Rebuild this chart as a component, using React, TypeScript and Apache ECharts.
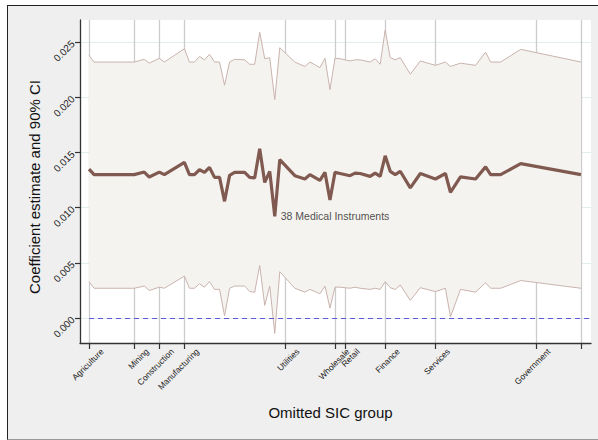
import React, { useEffect, useRef } from "react";
import * as echarts from "echarts";

const sic = [1, 2, 10, 12, 13, 15, 16, 20, 21, 22, 23, 24, 25, 26, 27, 28, 29, 30, 32, 33, 34, 35, 36, 37, 38, 39, 42, 44, 45, 47, 48, 49, 50, 51, 53, 54, 55, 57, 58, 59, 60, 61, 62, 63, 65, 67, 70, 72, 73, 75, 78, 80, 81, 83, 87, 99];
const coef = [0.0135, 0.013, 0.013, 0.01323, 0.01278, 0.01323, 0.013, 0.0141, 0.013, 0.013, 0.01344, 0.0132, 0.01365, 0.01275, 0.01275, 0.01058, 0.01293, 0.0132, 0.0132, 0.01275, 0.0127, 0.01534, 0.01229, 0.01329, 0.00922, 0.01435, 0.0129, 0.0126, 0.013, 0.01248, 0.0132, 0.0107, 0.0132, 0.0131, 0.0129, 0.01314, 0.0131, 0.01284, 0.01314, 0.01284, 0.0147, 0.0133, 0.013, 0.0133, 0.0118, 0.0131, 0.0126, 0.0131, 0.0114, 0.0128, 0.0126, 0.0137, 0.013, 0.013, 0.014, 0.013];
const upper = [0.0238, 0.0232, 0.0232, 0.02345, 0.0231, 0.02354, 0.0232, 0.0244, 0.0232, 0.0232, 0.0237, 0.0234, 0.0239, 0.0232, 0.0232, 0.0211, 0.0232, 0.02345, 0.0234, 0.023, 0.023, 0.0259, 0.0235, 0.0236, 0.0198, 0.0245, 0.0232, 0.0228, 0.0232, 0.0227, 0.02354, 0.0207, 0.02354, 0.0235, 0.0233, 0.0234, 0.0234, 0.0232, 0.0235, 0.023, 0.0261, 0.0236, 0.0234, 0.0236, 0.0221, 0.0233, 0.0229, 0.0232, 0.0228, 0.0231, 0.0229, 0.0241, 0.0232, 0.0232, 0.02435, 0.0232];
const lower = [0.0033, 0.0027, 0.0027, 0.0029, 0.0025, 0.0028, 0.0027, 0.0038, 0.0027, 0.0027, 0.0031, 0.0028, 0.0033, 0.0026, 0.0026, 0.0002, 0.0027, 0.0029, 0.0029, 0.0024, 0.00235, 0.00476, 0.00115, 0.0029, -0.0014, 0.0042, 0.0027, 0.00235, 0.0026, 0.0022, 0.0029, 0.0009, 0.0028, 0.0028, 0.0027, 0.0028, 0.0027, 0.0026, 0.0027, 0.0026, 0.0033, 0.00275, 0.0026, 0.003, 0.0016, 0.00275, 0.0024, 0.0027, 0.0001, 0.0026, 0.00235, 0.0032, 0.0027, 0.0027, 0.0034, 0.0027];

const xTickValues = [1, 10, 15, 20, 40, 50, 52, 60, 70, 90, 99];
const xTickLabels = ["Agriculture", "Mining", "Construction", "Manufacturing", "Utilities", "Wholesale", "Retail", "Finance", "Services", "Government", ""];
const yTickValues = [0, 0.005, 0.01, 0.015, 0.02, 0.025];

const labelSic = 38;
const labelText = "38 Medical Instruments";

const FONT = "'Liberation Sans', Arial, Helvetica, sans-serif";

export default function App() {
  const ref = useRef<HTMLDivElement>(null);
  useEffect(() => {
    if (!ref.current) return;
    const chart = echarts.init(ref.current, undefined, { renderer: "svg" });
    const bandData = sic.map((x, i) => [x, lower[i], upper[i]]);
    const upperPts = sic.map((x, i) => [x, upper[i]]);
    const lowerPts = sic.map((x, i) => [x, lower[i]]);
    const coefPts = sic.map((x, i) => [x, coef[i]]);
    const li = sic.indexOf(labelSic);
    const labelMap: Record<number, string> = {};
    xTickValues.forEach((v, i) => (labelMap[v] = xTickLabels[i]));

    chart.setOption({
      animation: false,
      textStyle: { fontFamily: FONT },
      grid: {
        left: 80,
        right: 7,
        top: 20,
        bottom: 97,
        show: true,
        backgroundColor: "#ffffff",
        borderWidth: 0,
      },
      xAxis: {
        type: "value",
        min: -0.8,
        max: 101,
        name: "Omitted SIC group",
        nameLocation: "middle",
        nameGap: 62,
        nameTextStyle: { fontSize: 15, color: "#111", fontFamily: FONT, padding: [0, 10, 0, 0] },
        axisLine: { show: true, onZero: false, lineStyle: { color: "#333", width: 1.3 } },
        axisTick: { show: true, length: 6, customValues: xTickValues, lineStyle: { color: "#333", width: 1.2 } },
        axisLabel: {
          customValues: xTickValues,
          rotate: 45,
          fontSize: 8.5,
          color: "#222",
          fontFamily: FONT,
          margin: -6,
          verticalAlign: "top",
          padding: [14, 0, 0, 0],
          formatter: (v: number) => labelMap[v] ?? "",
        },
        splitLine: { show: true, lineStyle: { color: "#cccccc", width: 1.3 } },
      },
      yAxis: {
        type: "value",
        min: -0.00226,
        max: 0.02701,
        name: "Coefficient estimate and 90% CI",
        nameLocation: "middle",
        nameGap: 38,
        nameTextStyle: { fontSize: 15, color: "#111", fontFamily: FONT, padding: [0, 11, 0, 0] },
        axisLine: { show: true, onZero: false, lineStyle: { color: "#333", width: 1.3 } },
        axisTick: { show: true, length: 5, customValues: yTickValues, lineStyle: { color: "#333", width: 1.2 } },
        axisLabel: {
          customValues: yTickValues,
          rotate: 45,
          fontSize: 10,
          color: "#222",
          fontFamily: FONT,
          margin: 7,
          formatter: (v: number) => v.toFixed(3),
        },
        splitLine: { show: true, lineStyle: { color: "#e2eded", width: 1 } },
      },
      series: [
        {
          type: "custom",
          data: bandData,
          silent: true,
          encode: { x: 0, y: [1, 2] },
          renderItem: (params: any, api: any) => {
            if (params.dataIndex !== 0) return null;
            const top = bandData.map((d) => api.coord([d[0], d[2]]));
            const bot = bandData.map((d) => api.coord([d[0], d[1]])).reverse();
            return {
              type: "polygon",
              shape: { points: top.concat(bot) },
              style: { fill: "#f5f3ef", stroke: "none" },
            };
          },
        },
        {
          type: "line",
          data: upperPts,
          symbol: "none",
          lineStyle: { color: "#c9b3ad", width: 1 },
        },
        {
          type: "line",
          data: lowerPts,
          symbol: "none",
          lineStyle: { color: "#c9b3ad", width: 1 },
          markLine: {
            silent: true,
            symbol: "none",
            label: { show: false },
            lineStyle: { color: "#5b5bd6", type: [5, 4], width: 1.2 },
            data: [[{ coord: [1, 0] }, { coord: [101, 0] }]],
          },
        },
        {
          type: "line",
          data: coefPts,
          symbol: "none",
          lineStyle: { color: "#805a50", width: 3.2 },
        },
        {
          type: "scatter",
          data: [[sic[li], coef[li]]],
          symbolSize: 0,
          label: {
            show: true,
            position: "right",
            distance: 6,
            formatter: labelText,
            fontSize: 10.5,
            color: "#222",
            fontFamily: FONT,
          },
        },
      ],
    });
    return () => chart.dispose();
  }, []);

  return (
    <div style={{ position: "absolute", left: 0, top: 0, width: 598, height: 440, background: "#fff" }}>
      <div
        style={{
          position: "absolute",
          left: 7,
          top: 5,
          width: 600,
          height: 433,
          background: "#efefef",
          borderTop: "1px solid #222",
          borderLeft: "1px solid #222",
          borderBottom: "1px solid #999",
        }}
      />
      <div ref={ref} style={{ position: "absolute", left: 0, top: 0, width: 598, height: 440 }} />
    </div>
  );
}
